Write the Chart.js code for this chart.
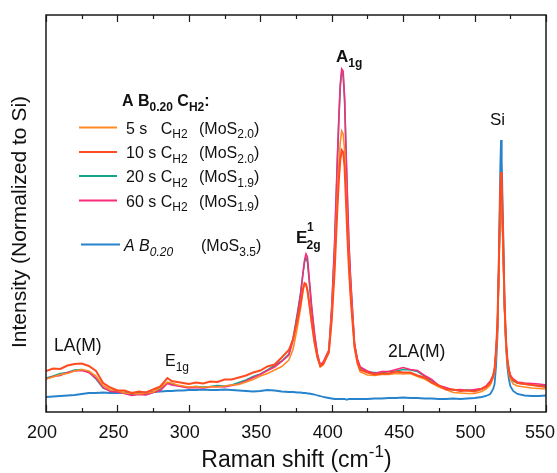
<!DOCTYPE html>
<html>
<head>
<meta charset="utf-8">
<script src="https://cdn.jsdelivr.net/npm/chart.js@4.4.1/dist/chart.umd.min.js"></script>
<style>
  html, body { margin: 0; padding: 0; background: #fff; }
</style>
</head>
<body>
<canvas id="raman" width="557" height="473"></canvas>
<script>
// Raman shift axis (cm-1), shared by every spectrum
const shiftCm = [
  200, 205, 210, 215, 220, 225, 230, 235, 240, 245, 250, 255, 260, 265, 270, 275, 280, 285,
  288, 292, 296,
  300, 305, 310, 315, 320, 325, 330, 335, 340, 345, 350, 355, 360, 365, 370,
  373, 376, 378, 380, 381, 382, 383, 384, 386, 388, 390, 392, 394, 396, 398,
  400, 402, 404, 405, 406, 407, 408, 409, 410, 411, 412, 413, 414, 416, 418, 420,
  425, 430, 435, 440, 445, 450, 455, 460, 465, 470, 475, 480, 485, 490, 495, 500, 505,
  508, 511, 513, 514, 515, 516, 517, 518, 518.5, 519, 520, 521, 522, 523, 524, 525, 527, 530,
  535, 540, 545, 550
];

// intensities (a.u., normalized to Si)
const intAB020 = [
  15, 15.5, 16, 16.5, 17, 18, 19, 19, 19.5, 19, 19, 19.5, 19, 19, 19.5, 20, 20.5, 21,
  21, 21.5, 21.5,
  22, 22, 22.5, 22, 22, 22.5, 22, 21.5, 21, 20.5, 21, 22, 21.5, 20.5, 20,
  20, 19.5, 19.5, 19, 19, 19, 18.5, 18.5, 18, 17.5, 16.5, 16, 15, 14.5, 14,
  13.5, 13, 13, 13, 13, 13, 13, 13, 12.5, 12.5, 13, 13, 13, 13, 13, 13,
  13, 13.5, 13.5, 14, 14, 14.5, 14, 14, 13.5, 13.5, 13, 13, 13.5, 13, 13.5, 14, 15,
  16, 18, 23, 28, 45, 75, 150, 245, 272, 252, 185, 110, 66, 44, 33, 26, 21, 18,
  16.5, 16, 16, 16.5
];
const int10s = [
  41, 43.5, 43, 46.5, 48, 48.5, 46, 41, 29, 24.5, 21.5, 21.5, 19, 20.5, 19.5, 22.5, 25.5, 34,
  31, 30, 29,
  28, 29.5, 28.5, 30.5, 30, 32.5, 32.5, 34.5, 36.5, 39.5, 41.5, 45.5, 47.5, 54.5, 62,
  73, 92, 106, 124, 129, 128, 122, 112, 90, 70, 55, 46, 48, 54, 60,
  92, 140, 205, 232, 252, 262, 260, 245, 210, 175, 145, 120, 100, 65, 50, 42,
  39.5, 37.5, 38.5, 38.5, 40.5, 39.5, 39.5, 36.5, 34.5, 29.5, 26.5, 22.5, 22.5, 21, 21.5, 20.5, 23,
  25, 29, 36, 43, 62, 88, 150, 222, 240, 228, 172, 108, 72, 52, 42, 36, 32, 29,
  28, 27, 26, 25
];
const int5s = [
  33, 35, 37.5, 38.5, 41, 42.5, 41, 36, 26.5, 22, 21.5, 19, 18.5, 18, 19, 20, 24.5, 30,
  29, 27, 26,
  25, 25.5, 24.5, 25.5, 25, 26, 27, 27.5, 30, 32.5, 36, 38.5, 42, 45.5, 52,
  63, 85, 102, 122, 128, 127, 121, 110, 88, 68, 54, 45, 47, 53, 59,
  96, 148, 218, 248, 270, 281, 278, 262, 222, 185, 152, 126, 104, 64, 48, 40,
  37, 36.5, 37.5, 37.5, 38.5, 38, 38.5, 35.5, 33, 29, 25, 22.5, 19.5, 19, 18.5, 18.5, 20.5,
  23, 27, 34, 40, 56, 80, 138, 205, 225, 210, 158, 100, 66, 48, 39, 33, 28, 26,
  25, 24, 23.5, 23
];
const int20s = [
  34, 36, 38.5, 39.5, 42, 42.5, 40, 33, 24, 21.5, 20, 18.5, 17.5, 18, 17.5, 19.5, 23, 29,
  28, 26.5, 25.5,
  25, 25.5, 25, 25.5, 26.5, 26, 27, 29.5, 32, 35.5, 38, 42, 46.5, 51, 58,
  74, 99, 117, 140, 150, 154, 150, 135, 103, 77, 57, 46, 49, 55, 61,
  104, 166, 252, 292, 325, 340, 336, 312, 262, 212, 168, 138, 113, 67, 52, 44,
  40, 39.5, 39, 40.5, 41, 42.5, 42, 40.5, 36, 31.5, 26, 23.5, 22, 21.5, 22, 21.5, 23.5,
  25, 30, 36, 42, 58, 83, 142, 210, 230, 215, 162, 103, 68, 50, 41, 35, 31, 29,
  28, 27, 26.5, 26
];
const int60s = [
  33, 35.5, 36.5, 39.5, 41, 41.5, 39.5, 34, 24.5, 20.5, 20, 18.5, 16.5, 17.5, 17, 19.5, 21.5, 28.5,
  27, 26, 25,
  24, 24.5, 24, 25, 25.5, 25, 26.5, 28, 31, 34.5, 37.5, 41.5, 45, 50.5, 57,
  72, 97, 115, 140, 152, 158, 155, 138, 105, 78, 58, 47, 50, 56, 62,
  105, 168, 255, 295, 328, 343, 341, 315, 263, 215, 172, 140, 115, 68, 53, 45,
  41, 38.5, 40.5, 40.5, 42.5, 44.5, 42.5, 41.5, 36.5, 32.5, 26.5, 24.5, 22, 22.5, 21.5, 22.5, 23.5,
  26, 31, 37, 43, 60, 85, 145, 215, 234, 220, 165, 105, 70, 52, 43, 37, 33, 30,
  29, 28.5, 28, 27
];

const xTicks = [200, 250, 300, 350, 400, 450, 500, 550];

// legend rows: time, MoS stoichiometry
const legendTimes = ['5 s   C', '10 s C', '20 s C', '60 s C'];
const legendMoS = ['2.0', '2.0', '1.9', '1.9'];

const FONT = '"Liberation Sans", Arial, sans-serif';

function pts(ys) {
  return shiftCm.map((x, i) => ({ x: x, y: ys[i] }));
}

// draws text pieces one after another; piece = [text, 'sub' | 'sup' | '']
function rich(ctx, x, y, parts, size, style) {
  style = style || '';
  parts.forEach(p => {
    const kind = p[1] || '';
    const fs = kind ? Math.round(size * 0.72) : size;
    ctx.font = style + ' ' + fs + 'px ' + FONT;
    let dy = 0;
    if (kind === 'sub') dy = size * 0.3;
    if (kind === 'sup') dy = -size * 0.45;
    ctx.fillText(p[0], x, y + dy);
    x += ctx.measureText(p[0]).width;
  });
  return x;
}

const colors = {
  ab: '#2683cc',
  s5: '#ff8a24',
  s10: '#ff4b1f',
  s20: '#14a58a',
  s60: '#fa2a7c'
};

const decor = {
  id: 'decor',
  afterDraw(chart) {
    const ctx = chart.ctx;
    const a = chart.chartArea;
    const xs = chart.scales.x;
    ctx.save();
    ctx.fillStyle = '#111';
    ctx.strokeStyle = '#1a1a1a';

    // frame
    ctx.lineWidth = 1.5;
    ctx.strokeRect(a.left, a.top, a.right - a.left, a.bottom - a.top);

    // inward ticks top and bottom
    ctx.lineWidth = 1.2;
    for (let v = 200; v <= 550; v += 25) {
      const px = Math.round(xs.getPixelForValue(v)) + 0.5;
      const len = v % 50 === 0 ? 7 : 4;
      ctx.beginPath();
      ctx.moveTo(px, a.bottom);
      ctx.lineTo(px, a.bottom - len);
      ctx.moveTo(px, a.top);
      ctx.lineTo(px, a.top + len);
      ctx.stroke();
    }

    // tick labels
    ctx.font = '18px ' + FONT;
    ctx.textAlign = 'center';
    ctx.textBaseline = 'middle';
    xTicks.forEach(v => {
      const w = ctx.measureText(String(v)).width;
      let px = xs.getPixelForValue(v) - 4;
      px = Math.min(px, 555 - w / 2);
      ctx.fillText(String(v), px, 433);
    });

    // axis titles
    ctx.textAlign = 'left';
    ctx.textBaseline = 'alphabetic';
    const xt = [['Raman shift (cm'], ['-1', 'sup'], [')']];
    let wt = 0;
    xt.forEach(p => {
      ctx.font = (p[1] ? 16 : 23) + 'px ' + FONT;
      wt += ctx.measureText(p[0]).width;
    });
    rich(ctx, (a.left + a.right) / 2 - wt / 2, 467, xt, 23);

    ctx.save();
    ctx.translate(20, 222);
    ctx.rotate(-Math.PI / 2);
    ctx.font = '21px ' + FONT;
    ctx.textAlign = 'center';
    ctx.textBaseline = 'middle';
    ctx.fillText('Intensity (Normalized to Si)', 0, 0);
    ctx.restore();

    // legend
    rich(ctx, 122, 106, [['A B'], ['0.20', 'sub'], [' C'], ['H2', 'sub'], [':']], 16, 'bold');
    const lineCols = [colors.s5, colors.s10, colors.s20, colors.s60];
    const rowY = [127.5, 152, 176, 200.5];
    legendTimes.forEach((t, i) => {
      const y = rowY[i];
      ctx.strokeStyle = lineCols[i];
      ctx.lineWidth = 2;
      ctx.beginPath();
      ctx.moveTo(79, y);
      ctx.lineTo(117, y);
      ctx.stroke();
      rich(ctx, 126, y + 6, [[t], ['H2', 'sub']], 16);
      rich(ctx, 199, y + 6, [['(MoS'], [legendMoS[i], 'sub'], [')']], 16);
    });
    ctx.strokeStyle = colors.ab;
    ctx.beginPath();
    ctx.moveTo(81, 244.5);
    ctx.lineTo(120, 244.5);
    ctx.stroke();
    rich(ctx, 124, 251, [['A B'], ['0.20', 'sub']], 16, 'italic');
    rich(ctx, 201, 251, [['(MoS'], ['3.5', 'sub'], [')']], 16);

    // peak labels
    rich(ctx, 336, 62, [['A'], ['1g', 'sub']], 17, 'bold');
    rich(ctx, 490, 125, [['Si']], 17);
    ctx.font = 'bold 17px ' + FONT;
    ctx.fillText('E', 296, 243);
    ctx.font = 'bold 12px ' + FONT;
    ctx.fillText('1', 307, 231);
    ctx.fillText('2g', 306.5, 249);
    rich(ctx, 54, 351, [['LA(M)']], 17.5);
    rich(ctx, 165, 366, [['E'], ['1g', 'sub']], 16);
    rich(ctx, 388, 357, [['2LA(M)']], 17.5);

    ctx.restore();
  }
};

function series(ys, color, width) {
  return {
    data: pts(ys),
    borderColor: color,
    backgroundColor: color,
    borderWidth: width,
    pointRadius: 0,
    tension: 0,
    fill: false
  };
}

new Chart(document.getElementById('raman'), {
  type: 'line',
  data: {
    datasets: [
      series(int10s, colors.s10, 2),
      series(int5s, colors.s5, 1.6),
      series(int60s, colors.s60, 1.6),
      series(int20s, colors.s20, 1.6),
      series(intAB020, colors.ab, 1.8)
    ]
  },
  options: {
    responsive: false,
    animation: false,
    layout: { padding: { left: 46, right: 11, top: 15, bottom: 61 } },
    plugins: { legend: { display: false }, tooltip: { enabled: false } },
    scales: {
      x: { type: 'linear', min: 200, max: 550, display: false, ticks: { stepSize: 50 } },
      y: { min: 0, max: 397, display: false }
    }
  },
  plugins: [decor]
});
</script>
</body>
</html>
